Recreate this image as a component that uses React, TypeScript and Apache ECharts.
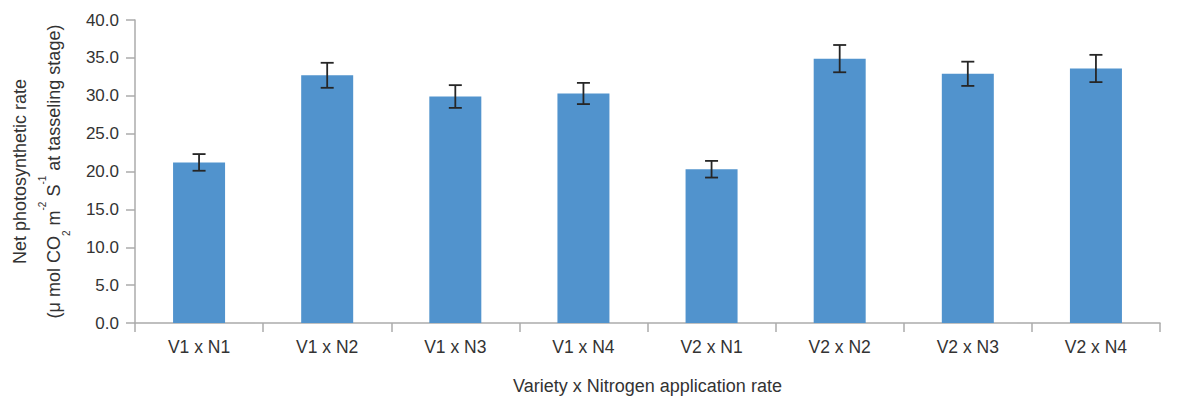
import React, { useEffect, useRef } from "react";
import * as echarts from "echarts";

const categories = ["V1 x N1", "V1 x N2", "V1 x N3", "V1 x N4", "V2 x N1", "V2 x N2", "V2 x N3", "V2 x N4"];
const values = [21.2, 32.7, 29.9, 30.3, 20.3, 34.9, 32.9, 33.6];
const errors = [1.1, 1.65, 1.5, 1.4, 1.1, 1.8, 1.6, 1.8];
const yTicks = { min: 0, max: 40, interval: 5 };
const xName = "Variety x Nitrogen application rate";

export default function App() {
  const ref = useRef<HTMLDivElement>(null);
  useEffect(() => {
    const chart = echarts.init(ref.current!, null, { renderer: "svg" });
    const font = "'Liberation Sans', Arial, sans-serif";
    const errData = values.map((v, i) => [i, v - errors[i], v + errors[i]]);
    chart.setOption({
      animation: false,
      textStyle: { fontFamily: font },
      grid: { left: 135, right: 19, top: 20, bottom: 76, containLabel: false },
      xAxis: {
        type: "category",
        data: categories,
        name: xName,
        nameLocation: "middle",
        nameGap: 54,
        nameTextStyle: { fontSize: 18, color: "#333", fontFamily: font },
        axisLine: { lineStyle: { color: "#ababab", width: 1.5 } },
        axisTick: { show: true, length: 9, lineStyle: { color: "#ababab", width: 1.5 } },
        axisLabel: { fontSize: 17.5, color: "#333", margin: 15, fontFamily: font },
      },
      yAxis: {
        type: "value",
        min: yTicks.min,
        max: yTicks.max,
        interval: yTicks.interval,
        name:
          "{a|Net photosynthetic rate}\n{a|(μ mol CO}{sub|2}{a| m}{sup|-2}{a| S}{sup|-1}{a| at tasseling stage)}",
        nameLocation: "middle",
        nameRotate: 90,
        nameGap: 64,
        nameTextStyle: {
          color: "#333",
          fontFamily: font,
          rich: {
            a: { fontSize: 18, lineHeight: 34, color: "#333", fontFamily: font },
            sup: { fontSize: 10, lineHeight: 22, verticalAlign: "top", color: "#333", fontFamily: font },
            sub: { fontSize: 10, lineHeight: 20, verticalAlign: "bottom", color: "#333", fontFamily: font },
          },
        },
        splitLine: { show: false },
        axisLine: { show: true, lineStyle: { color: "#ababab", width: 1.5 } },
        axisTick: { show: true, length: 9, lineStyle: { color: "#ababab", width: 1.5 } },
        axisLabel: {
          fontSize: 17,
          color: "#333",
          margin: 16,
          fontFamily: font,
          formatter: (v: number) => v.toFixed(1),
        },
      },
      series: [
        {
          type: "bar",
          data: values,
          barWidth: 52,
          itemStyle: { color: "#5193cd" },
        },
        {
          type: "custom",
          data: errData,
          z: 10,
          renderItem: (params: any, api: any) => {
            const x = api.value(0);
            const lo = api.coord([x, api.value(1)]);
            const hi = api.coord([x, api.value(2)]);
            const half = 6.5;
            const style = { stroke: "#262626", lineWidth: 1.8 };
            return {
              type: "group",
              children: [
                { type: "line", shape: { x1: lo[0], y1: lo[1], x2: hi[0], y2: hi[1] }, style },
                { type: "line", shape: { x1: hi[0] - half, y1: hi[1], x2: hi[0] + half, y2: hi[1] }, style },
                { type: "line", shape: { x1: lo[0] - half, y1: lo[1], x2: lo[0] + half, y2: lo[1] }, style },
              ],
            };
          },
        },
      ],
    });
    return () => chart.dispose();
  }, []);
  return <div ref={ref} style={{ width: 1179, height: 400, position: "absolute", left: 0, top: 0 }} />;
}
